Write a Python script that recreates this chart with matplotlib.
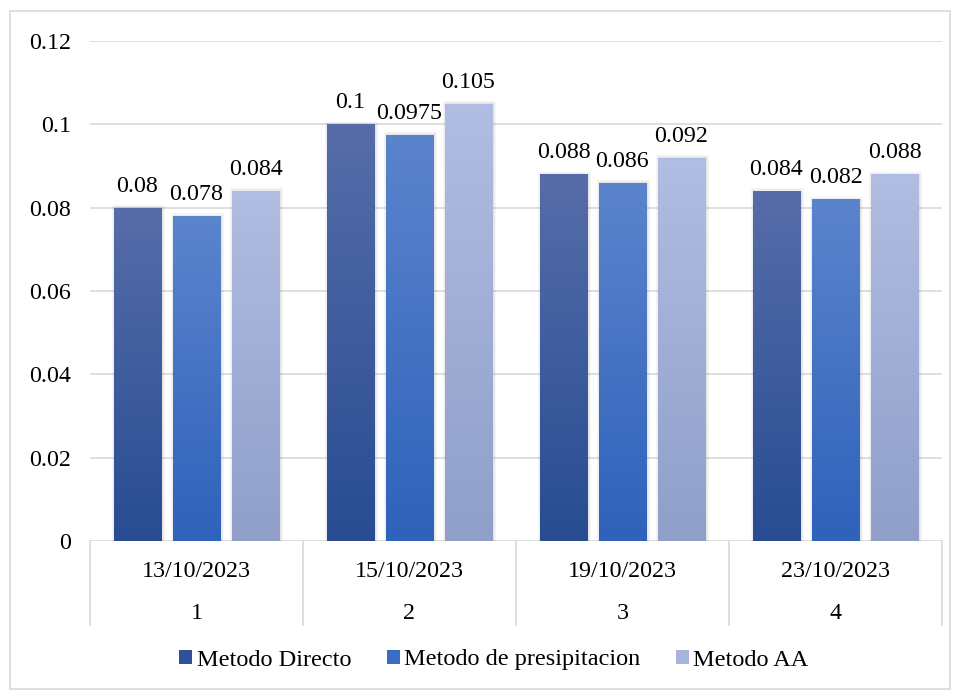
import matplotlib
matplotlib.use("Agg")
import matplotlib.pyplot as plt
import numpy as np
from matplotlib.patches import Rectangle
from matplotlib.colors import LinearSegmentedColormap

plt.rcParams['font.family'] = ['Liberation Serif', 'DejaVu Serif']

dates = ["13/10/2023", "15/10/2023", "19/10/2023", "23/10/2023"]
numbers = ["1", "2", "3", "4"]
series_names = ["Metodo Directo", "Metodo de presipitacion", "Metodo AA"]
directo = [0.08, 0.1, 0.088, 0.084]
presip = [0.078, 0.0975, 0.086, 0.082]
aa = [0.084, 0.105, 0.092, 0.088]
labels_txt = [["0.08", "0.1", "0.088", "0.084"],
              ["0.078", "0.0975", "0.086", "0.082"],
              ["0.084", "0.105", "0.092", "0.088"]]
yticks = [0, 0.02, 0.04, 0.06, 0.08, 0.1, 0.12]
ytick_labels = ["0", "0.02", "0.04", "0.06", "0.08", "0.1", "0.12"]

top_cols = ["#566da9", "#5b84cc", "#b1bde2"]
bot_cols = ["#284c92", "#2f62bb", "#8f9fc9"]
legend_cols = ["#2f5197", "#3a6cc3", "#a6b4dc"]

FS = 17.3
W, H = 957, 691
fig = plt.figure(figsize=(W/100, H/100), dpi=100)
ax = fig.add_axes([90/W, 150/H, 852/W, 500/H])
ax.set_xlim(0, 4)
ax.set_ylim(0, 0.12)

# outer border
fig.patches.append(Rectangle((10/W, 2/H), 940/W, 678/H, transform=fig.transFigure,
                             fill=False, edgecolor="#d9d9d9", linewidth=1.2))

for y in yticks:
    ax.axhline(y, color="#d9d9d9", linewidth=1.2, zorder=0)
ax.set_yticks(yticks)
ax.set_yticklabels(ytick_labels, fontsize=FS)
ax.tick_params(axis='y', length=0, pad=13.5)
ax.set_xticks([])
for s in ax.spines.values():
    s.set_visible(False)

bw = 0.225
step = 0.277
px = 4 / 852.0
py = 0.12 / 500.0
series = [directo, presip, aa]
for si, vals in enumerate(series):
    cmap = LinearSegmentedColormap.from_list("g", [bot_cols[si], top_cols[si]])
    for gi, v in enumerate(vals):
        x0 = gi + 0.5 + (si - 1) * step - bw / 2
        # soft shadow
        for k in (3, 2, 1):
            sh = Rectangle((x0 - k * px + 1 * px, 0), bw + 2 * k * px, v + (k - 0.5) * py,
                           facecolor="#000000", alpha=0.035, edgecolor="none", zorder=2)
            ax.add_patch(sh)
        rect = Rectangle((x0, 0), bw, v, facecolor="none", edgecolor="none", zorder=3)
        ax.add_patch(rect)
        grad = np.linspace(0, 1, 256).reshape(-1, 1)
        im = ax.imshow(grad, cmap=cmap, origin="lower", aspect="auto",
                       extent=[x0, x0 + bw, 0, v], zorder=3, interpolation="bilinear")
        im.set_clip_path(rect)
        ax.annotate(labels_txt[si][gi], (x0 + bw / 2, v), xytext=(0, 11.5),
                    textcoords="offset points", ha="center", va="baseline", fontsize=FS)

ax.set_xlim(0, 4)
ax.set_ylim(0, 0.12)

# multi-level category axis
trans = ax.get_xaxis_transform()
for i in range(5):
    ax.plot([i, i], [0, -84/500], transform=trans, color="#d9d9d9", linewidth=1.2,
            clip_on=False)
for i in range(4):
    ax.text(i + 0.5, -36/500, dates[i], transform=trans, ha="center", va="baseline", fontsize=FS)
    ax.text(i + 0.5, -78/500, numbers[i], transform=trans, ha="center", va="baseline", fontsize=FS)

handles = [Rectangle((0, 0), 1, 1, facecolor=c, edgecolor="none") for c in legend_cols]
fig.legend(handles, series_names, loc="center", bbox_to_anchor=(494/W, 1 - 660/H), ncol=3,
           frameon=False, fontsize=17.5, handlelength=0.53, handleheight=0.53,
           handletextpad=0.2, columnspacing=1.44, borderpad=0, borderaxespad=0)

fig.savefig("out.png", dpi=100)
